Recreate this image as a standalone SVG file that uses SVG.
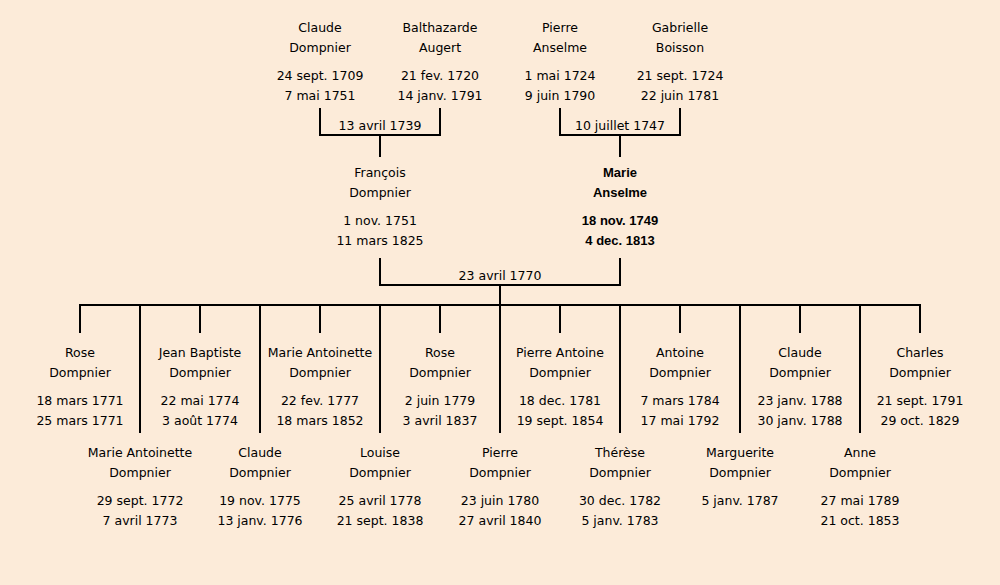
<svg xmlns="http://www.w3.org/2000/svg" width="1000" height="585" viewBox="0 0 1000 585">
<style>
text{font-family:"DejaVu Sans","Liberation Sans",sans-serif;font-size:12.5px;fill:#000;text-anchor:middle}
.b text{font-family:"Liberation Sans","DejaVu Sans",sans-serif;font-weight:bold;font-size:13px}
.c line{stroke:#000;stroke-width:2;stroke-linecap:square}
</style>
<rect width="1000" height="585" fill="#fcebd9"/>
<g class="c" id="connectors">
<line x1="320" y1="109" x2="320" y2="135"/><line x1="440" y1="109" x2="440" y2="135"/><line x1="320" y1="135" x2="440" y2="135"/><line x1="380" y1="135" x2="380" y2="156"/>
<line x1="560" y1="109" x2="560" y2="135"/><line x1="680" y1="109" x2="680" y2="135"/><line x1="560" y1="135" x2="680" y2="135"/><line x1="620" y1="135" x2="620" y2="156"/>
<line x1="380" y1="259" x2="380" y2="285"/><line x1="620" y1="259" x2="620" y2="285"/><line x1="380" y1="285" x2="620" y2="285"/><line x1="500" y1="285" x2="500" y2="305"/>
<line x1="80" y1="305" x2="920" y2="305"/>
<line x1="80" y1="305" x2="80" y2="332"/><line x1="140" y1="305" x2="140" y2="432"/><line x1="200" y1="305" x2="200" y2="332"/><line x1="260" y1="305" x2="260" y2="432"/><line x1="320" y1="305" x2="320" y2="332"/><line x1="380" y1="305" x2="380" y2="432"/><line x1="440" y1="305" x2="440" y2="332"/><line x1="500" y1="305" x2="500" y2="432"/><line x1="560" y1="305" x2="560" y2="332"/><line x1="620" y1="305" x2="620" y2="432"/><line x1="680" y1="305" x2="680" y2="332"/><line x1="740" y1="305" x2="740" y2="432"/><line x1="800" y1="305" x2="800" y2="332"/><line x1="860" y1="305" x2="860" y2="432"/><line x1="920" y1="305" x2="920" y2="332"/>
<text x="380" y="130">13 avril 1739</text>
<text x="620" y="130">10 juillet 1747</text>
<text x="500" y="280">23 avril 1770</text>
</g>
<g id="claude-dompnier-1709"><text x="320" y="32">Claude</text><text x="320" y="52">Dompnier</text><text x="320" y="80">24 sept. 1709</text><text x="320" y="100">7 mai 1751</text></g>
<g id="balthazarde-augert"><text x="440" y="32">Balthazarde</text><text x="440" y="52">Augert</text><text x="440" y="80">21 fev. 1720</text><text x="440" y="100">14 janv. 1791</text></g>
<g id="pierre-anselme"><text x="560" y="32">Pierre</text><text x="560" y="52">Anselme</text><text x="560" y="80">1 mai 1724</text><text x="560" y="100">9 juin 1790</text></g>
<g id="gabrielle-boisson"><text x="680" y="32">Gabrielle</text><text x="680" y="52">Boisson</text><text x="680" y="80">21 sept. 1724</text><text x="680" y="100">22 juin 1781</text></g>
<g id="francois-dompnier"><text x="380" y="177">François</text><text x="380" y="197">Dompnier</text><text x="380" y="225">1 nov. 1751</text><text x="380" y="245">11 mars 1825</text></g>
<g id="marie-anselme" class="b"><text x="620" y="177">Marie</text><text x="620" y="197">Anselme</text><text x="620" y="225">18 nov. 1749</text><text x="620" y="245">4 dec. 1813</text></g>
<g id="rose-1771"><text x="80" y="357">Rose</text><text x="80" y="377">Dompnier</text><text x="80" y="405">18 mars 1771</text><text x="80" y="425">25 mars 1771</text></g>
<g id="marie-antoinette-1772"><text x="140" y="457">Marie Antoinette</text><text x="140" y="477">Dompnier</text><text x="140" y="505">29 sept. 1772</text><text x="140" y="525">7 avril 1773</text></g>
<g id="jean-baptiste"><text x="200" y="357">Jean Baptiste</text><text x="200" y="377">Dompnier</text><text x="200" y="405">22 mai 1774</text><text x="200" y="425">3 août 1774</text></g>
<g id="claude-1775"><text x="260" y="457">Claude</text><text x="260" y="477">Dompnier</text><text x="260" y="505">19 nov. 1775</text><text x="260" y="525">13 janv. 1776</text></g>
<g id="marie-antoinette-1777"><text x="320" y="357">Marie Antoinette</text><text x="320" y="377">Dompnier</text><text x="320" y="405">22 fev. 1777</text><text x="320" y="425">18 mars 1852</text></g>
<g id="louise"><text x="380" y="457">Louise</text><text x="380" y="477">Dompnier</text><text x="380" y="505">25 avril 1778</text><text x="380" y="525">21 sept. 1838</text></g>
<g id="rose-1779"><text x="440" y="357">Rose</text><text x="440" y="377">Dompnier</text><text x="440" y="405">2 juin 1779</text><text x="440" y="425">3 avril 1837</text></g>
<g id="pierre-1780"><text x="500" y="457">Pierre</text><text x="500" y="477">Dompnier</text><text x="500" y="505">23 juin 1780</text><text x="500" y="525">27 avril 1840</text></g>
<g id="pierre-antoine"><text x="560" y="357">Pierre Antoine</text><text x="560" y="377">Dompnier</text><text x="560" y="405">18 dec. 1781</text><text x="560" y="425">19 sept. 1854</text></g>
<g id="therese"><text x="620" y="457">Thérèse</text><text x="620" y="477">Dompnier</text><text x="620" y="505">30 dec. 1782</text><text x="620" y="525">5 janv. 1783</text></g>
<g id="antoine"><text x="680" y="357">Antoine</text><text x="680" y="377">Dompnier</text><text x="680" y="405">7 mars 1784</text><text x="680" y="425">17 mai 1792</text></g>
<g id="marguerite"><text x="740" y="457">Marguerite</text><text x="740" y="477">Dompnier</text><text x="740" y="505">5 janv. 1787</text></g>
<g id="claude-1788"><text x="800" y="357">Claude</text><text x="800" y="377">Dompnier</text><text x="800" y="405">23 janv. 1788</text><text x="800" y="425">30 janv. 1788</text></g>
<g id="anne"><text x="860" y="457">Anne</text><text x="860" y="477">Dompnier</text><text x="860" y="505">27 mai 1789</text><text x="860" y="525">21 oct. 1853</text></g>
<g id="charles"><text x="920" y="357">Charles</text><text x="920" y="377">Dompnier</text><text x="920" y="405">21 sept. 1791</text><text x="920" y="425">29 oct. 1829</text></g>
</svg>
